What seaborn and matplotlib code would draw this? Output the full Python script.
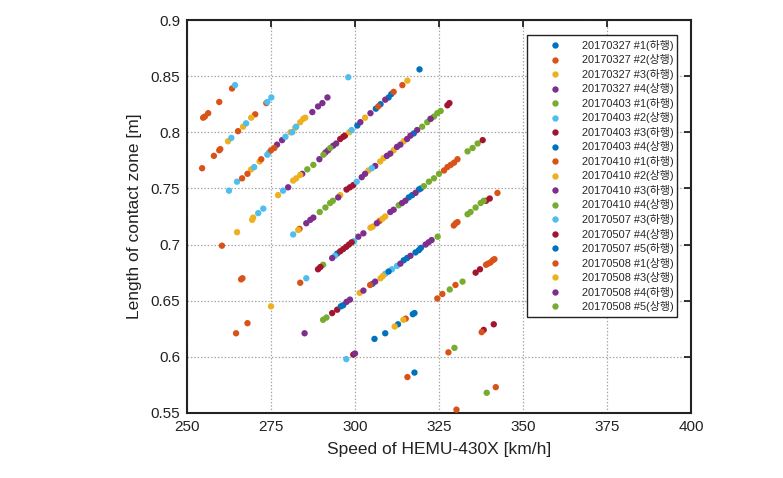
import numpy as np
import pandas as pd
import matplotlib
matplotlib.use("Agg")
import matplotlib.pyplot as plt
import seaborn as sns

# ---- data (speed km/h, contact length m) per series ----
s0327_1_v = [300.7, 306.2, 307.6, 310, 310.8, 319.2, 305.8, 309, 312.8, 317.2, 317.7]
s0327_1_L = [0.806, 0.821, 0.825, 0.831, 0.834, 0.856, 0.616, 0.621, 0.629, 0.638, 0.639]
s0327_2_v = [254.8, 255.3, 256.3, 259.6, 263.4, 254.5, 258, 259.6, 259.9, 265.2, 270.3, 273.6]
s0327_2_L = [0.813, 0.814, 0.817, 0.827, 0.839, 0.768, 0.779, 0.784, 0.785, 0.801, 0.816, 0.826]
s0327_3_v = [262.2, 266.7, 269.1, 269.1, 271.6, 280.8, 282.2, 283.7, 284.6, 285.2]
s0327_3_L = [0.792, 0.805, 0.813, 0.767, 0.774, 0.800, 0.804, 0.809, 0.812, 0.813]
s0327_4_v = [276.8, 278.3, 287.3, 289, 290.3, 291.8, 280.1, 284.3, 289.4, 291.2, 292, 293.5, 294.4, 301.6, 304.6, 309]
s0327_4_L = [0.789, 0.793, 0.818, 0.823, 0.826, 0.831, 0.751, 0.763, 0.776, 0.782, 0.784, 0.788, 0.790, 0.809, 0.817, 0.829]
s0403_1_v = [285.8, 287.6, 290.6, 292.6, 289.5, 291.2, 292.6, 293.4, 320, 321.5, 322.5, 323.5, 324.5, 325.5]
s0403_1_L = [0.767, 0.771, 0.780, 0.786, 0.729, 0.733, 0.737, 0.739, 0.805, 0.809, 0.812, 0.814, 0.817, 0.819]
s0403_2_v = [264.3, 263.2, 267.6, 273.9, 275.1, 262.5, 264.9, 270, 273.9, 274.4, 279.3, 281.3, 282.5, 271.2, 272.7]
s0403_2_L = [0.842, 0.795, 0.808, 0.827, 0.831, 0.748, 0.756, 0.769, 0.780, 0.782, 0.796, 0.800, 0.805, 0.728, 0.732]
s0403_3_v = [295.6, 296.5, 297, 297.5, 298.5, 299.5, 327.5, 328.1]
s0403_3_L = [0.794, 0.796, 0.797, 0.749, 0.751, 0.753, 0.824, 0.826]
s0403_4_v = [294.7, 316, 317, 319, 319.6, 317.5]
s0403_4_L = [0.692, 0.742, 0.744, 0.749, 0.750, 0.799]
s0410_1_v = [266.4, 268, 272.1, 275, 276, 260.4, 306.9, 311.5, 314.1, 266.1, 266.5, 283.5, 264.6, 268, 283.7]
s0410_1_L = [0.759, 0.763, 0.776, 0.784, 0.786, 0.699, 0.823, 0.836, 0.842, 0.669, 0.670, 0.714, 0.621, 0.630, 0.666]
s0410_2_v = [264.9, 269.4, 269.7, 277.1, 281.6, 282.5, 283.7, 298.3, 303, 315.6, 283.1, 295.6, 304, 307.5, 308.5, 311.5, 314.5]
s0410_2_L = [0.711, 0.722, 0.724, 0.744, 0.757, 0.759, 0.762, 0.800, 0.813, 0.846, 0.713, 0.744, 0.766, 0.774, 0.777, 0.784, 0.792]
s0410_3_v = [285.5, 286.7, 287.6, 295, 302, 303, 306, 309.5, 310.5, 312.5, 313.5, 315.5, 316.5, 318.5, 322.5]
s0410_3_L = [0.719, 0.722, 0.724, 0.742, 0.760, 0.763, 0.770, 0.779, 0.781, 0.787, 0.789, 0.794, 0.797, 0.802, 0.812]
s0410_4_v = [290.5, 313, 320.5, 322, 323.5, 325, 333.5, 335, 336.5]
s0410_4_L = [0.682, 0.735, 0.752, 0.756, 0.759, 0.763, 0.783, 0.786, 0.790]
s0507_3_v = [278.6, 299, 281.6, 300.5, 305, 285.5, 294, 299.7, 309, 311, 312.5, 297.4, 298]
s0507_3_L = [0.748, 0.802, 0.709, 0.756, 0.768, 0.670, 0.690, 0.703, 0.674, 0.678, 0.681, 0.598, 0.849]
s0507_4_v = [289, 289.7, 295.6, 296.5, 297.4, 298.2, 299, 338, 293.2, 294.7, 339, 340.1, 299.5, 335.9, 337.2, 338.3, 341.3]
s0507_4_L = [0.678, 0.680, 0.694, 0.696, 0.698, 0.700, 0.702, 0.793, 0.639, 0.642, 0.739, 0.741, 0.602, 0.675, 0.678, 0.624, 0.629]
s0507_5_v = [295.8, 296.5, 305.2, 310, 314.5, 315.5, 318, 319, 319.6, 317.7]
s0507_5_L = [0.645, 0.646, 0.665, 0.676, 0.686, 0.688, 0.693, 0.695, 0.697, 0.586]
s0508_1_v = [307.3, 326.5, 327.5, 328.5, 329.5, 330.5, 304.5, 329.4, 330, 330.5, 342.4, 315.1, 324.5, 326, 329.9,
             339, 339.6, 340.3, 341, 341.5, 315.6, 327.8, 337.7, 330.2, 341.9]
s0508_1_L = [0.721, 0.766, 0.769, 0.771, 0.773, 0.776, 0.664, 0.717, 0.719, 0.720, 0.746, 0.634, 0.652, 0.656, 0.664,
             0.682, 0.683, 0.684, 0.686, 0.687, 0.582, 0.604, 0.622, 0.553, 0.573]
s0508_3_v = [275, 304.6, 305.3, 308.2, 309, 301.4, 307.6, 308.3, 311.8, 314.4]
s0508_3_L = [0.645, 0.715, 0.716, 0.723, 0.725, 0.657, 0.670, 0.672, 0.627, 0.633]
s0508_4_v = [293.2, 301, 302.5, 306.5, 310.5, 311.5, 314, 315, 318, 285, 297.5, 298.5, 302.5, 306, 313.5, 316.5,
             321, 321.9, 322.8, 300]
s0508_4_L = [0.688, 0.707, 0.710, 0.719, 0.729, 0.731, 0.737, 0.739, 0.746, 0.621, 0.649, 0.651, 0.659, 0.667, 0.683, 0.690,
             0.700, 0.702, 0.704, 0.603]
s0508_5_v = [290.5, 291.5, 324.6, 333.5, 334.4, 335.9, 337.4, 338.3, 328.2, 332, 329.6, 339.2]
s0508_5_L = [0.633, 0.635, 0.707, 0.727, 0.729, 0.733, 0.737, 0.739, 0.660, 0.667, 0.608, 0.568]

labels = ["20170327 #1(하행)", "20170327 #2(상행)", "20170327 #3(하행)", "20170327 #4(상행)",
          "20170403 #1(하행)", "20170403 #2(상행)", "20170403 #3(하행)", "20170403 #4(상행)",
          "20170410 #1(하행)", "20170410 #2(상행)", "20170410 #3(하행)", "20170410 #4(상행)",
          "20170507 #3(하행)", "20170507 #4(상행)", "20170507 #5(하행)",
          "20170508 #1(상행)", "20170508 #3(상행)", "20170508 #4(하행)", "20170508 #5(상행)"]
speeds = [s0327_1_v, s0327_2_v, s0327_3_v, s0327_4_v, s0403_1_v, s0403_2_v, s0403_3_v, s0403_4_v,
          s0410_1_v, s0410_2_v, s0410_3_v, s0410_4_v, s0507_3_v, s0507_4_v, s0507_5_v,
          s0508_1_v, s0508_3_v, s0508_4_v, s0508_5_v]
lengths = [s0327_1_L, s0327_2_L, s0327_3_L, s0327_4_L, s0403_1_L, s0403_2_L, s0403_3_L, s0403_4_L,
           s0410_1_L, s0410_2_L, s0410_3_L, s0410_4_L, s0507_3_L, s0507_4_L, s0507_5_L,
           s0508_1_L, s0508_3_L, s0508_4_L, s0508_5_L]

matlab = ["#0072BD", "#D95319", "#EDB120", "#7E2F8E", "#77AC30", "#4DBEEE", "#A2142F"]
palette = {lab: matlab[i % 7] for i, lab in enumerate(labels)}

rows = []
for lab, vs, ls in zip(labels, speeds, lengths):
    for v, l in zip(vs, ls):
        rows.append((lab, v, l))
df = pd.DataFrame(rows, columns=["series", "speed", "length"])

sns.set_theme(style="white")
plt.rcParams["font.family"] = ["Liberation Sans", "Noto Sans CJK KR"]
plt.rcParams["axes.unicode_minus"] = False

fig = plt.figure(figsize=(7.83, 4.78), dpi=100)
ax = fig.add_axes([187 / 783, 65 / 478, 504 / 783, 393 / 478])

sns.scatterplot(data=df, x="speed", y="length", hue="series", hue_order=labels,
                palette=palette, s=21, linewidth=0, alpha=1, ax=ax, zorder=3)

ax.set_xlim(250, 400)
ax.set_ylim(0.55, 0.9)
ax.set_xticks([250, 275, 300, 325, 350, 375, 400])
ax.set_xticklabels(["250", "275", "300", "325", "350", "375", "400"])
ax.set_yticks([0.55, 0.6, 0.65, 0.7, 0.75, 0.8, 0.85, 0.9])
ax.set_yticklabels(["0.55", "0.6", "0.65", "0.7", "0.75", "0.8", "0.85", "0.9"])
ax.grid(True, color="#a8a8a8", linestyle=(0, (1.2, 1.5)), linewidth=0.9, zorder=0)
ax.set_axisbelow(True)
ax.tick_params(direction="in", length=5, width=1.3, top=True, right=True,
               labelsize=11, colors="#222222", pad=5)
for sp in ax.spines.values():
    sp.set_color("#222222")
    sp.set_linewidth(1.5)
ax.set_xlabel("Speed of HEMU-430X [km/h]", fontsize=12.5, color="#222222", labelpad=6)
ax.set_ylabel("Length of contact zone [m]", fontsize=12.5, color="#222222", labelpad=6)

handles, labs = ax.get_legend_handles_labels()
leg = ax.legend(handles, labs, loc="upper left", bbox_to_anchor=(0.675, 0.962, 0.297, 0.0),
                mode="expand", frameon=True, fancybox=False, fontsize=7.9,
                labelspacing=0.32, handlelength=4.1, handletextpad=0.4, borderpad=0.45,
                borderaxespad=0, markerscale=1.0)
leg.get_frame().set_edgecolor("#222222")
leg.get_frame().set_linewidth(1.0)
leg.get_frame().set_alpha(1)
for h in leg.legend_handles:
    try:
        h.set_sizes([18])
    except Exception:
        pass

fig.savefig("out.png", dpi=100)
